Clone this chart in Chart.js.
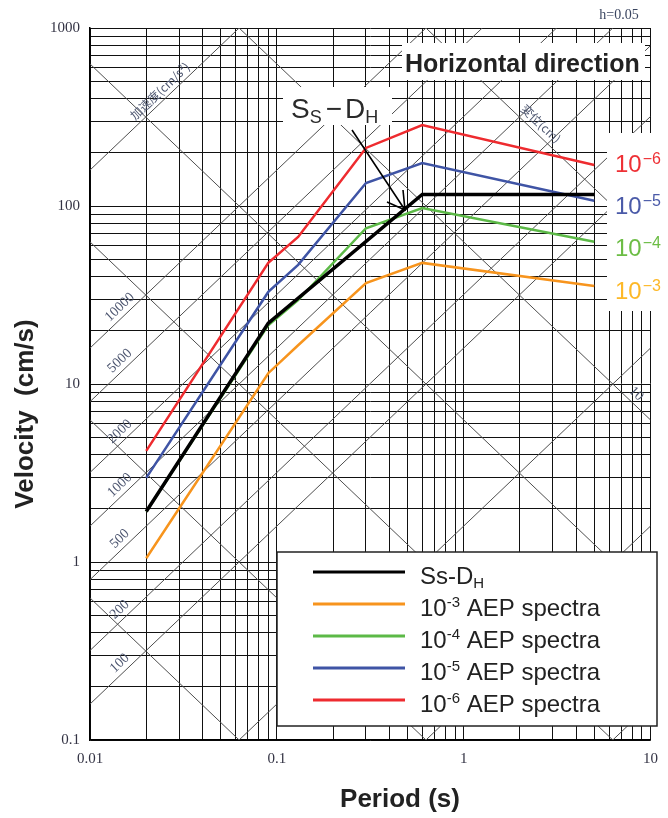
<!DOCTYPE html>
<html>
<head>
<meta charset="utf-8">
<script src="https://cdn.jsdelivr.net/npm/chart.js@4.4.1/dist/chart.umd.min.js"></script>
<style>
html, body { margin: 0; padding: 0; background: #fff; }
#wrap { width: 668px; height: 818px; position: relative; }
</style>
</head>
<body>
<div id="wrap"><canvas id="chart"></canvas></div>
<script>
// values (period in s, velocity in cm/s)
const ssPeriods = [0.02, 0.09, 0.6, 5];
const ssVelocity = [1.92, 22, 116, 116];
const aepPeriods = [0.02, 0.09, 0.13, 0.3, 0.6, 5];
const aep3 = [1.05, 11.5, 16.5, 36.9, 47.9, 35.5];
const aep4 = [1.92, 21.4, 29.6, 75, 97.5, 63];
const aep5 = [2.97, 32.9, 46.7, 134.6, 174.5, 107];
const aep6 = [4.21, 47.9, 67, 212, 285, 170];

const xTickValues = [0.01, 0.1, 1, 10];
const xTickLabels = ['0.01', '0.1', '1', '10'];
const yTickValues = [0.1, 1, 10, 100, 1000];
const yTickLabels = ['0.1', '1', '10', '100', '1000'];

// tripartite guide lines: acceleration (cm/s2) and displacement (cm)
const accelLines = [0.1, 1, 10, 100, 200, 500, 1000, 2000, 5000, 10000, 100000];
const accelLabels = [100, 200, 500, 1000, 2000, 5000, 10000];
const dispLines = [0.001, 0.01, 0.1, 1, 10, 100];

const TWO_PI = 2 * Math.PI;
const SANS = "'Liberation Sans', Arial, sans-serif";
const SERIF = "'Liberation Serif', 'Times New Roman', serif";

function decadeGrid(min, max) {
	let out = [];
	let e0 = Math.round(Math.log10(min));
	let e1 = Math.round(Math.log10(max));
	for (let e = e0; e < e1; e++) {
		for (let m = 1; m < 10; m++) {
			out.push(+(m * Math.pow(10, e)).toPrecision(6));
		}
	}
	out.push(max);
	return out;
}

function labelFor(value, values, labels) {
	let i = values.findIndex(v => Math.abs(v - value) / v < 1e-6);
	return i < 0 ? '' : labels[i];
}

function points(xs, ys) {
	return xs.map((x, i) => ({x, y: ys[i]}));
}

// text made of runs, for sub/superscripts
function drawRuns(ctx, x, y, runs, color) {
	ctx.fillStyle = color;
	ctx.textAlign = 'left';
	ctx.textBaseline = 'alphabetic';
	for (let r of runs) {
		ctx.font = (r.bold ? 'bold ' : '') + r.size + 'px ' + (r.family || SANS);
		ctx.fillText(r.text, x, y + (r.dy || 0));
		x += ctx.measureText(r.text).width + (r.gap || 0);
	}
	return x;
}

const legendRuns = [
	[{text: 'Ss-D', size: 24}, {text: 'H', size: 15, dy: 4}],
	[{text: '10', size: 24}, {text: '-3', size: 15, dy: -9}, {text: ' AEP spectra', size: 24}],
	[{text: '10', size: 24}, {text: '-4', size: 15, dy: -9}, {text: ' AEP spectra', size: 24}],
	[{text: '10', size: 24}, {text: '-5', size: 15, dy: -9}, {text: ' AEP spectra', size: 24}],
	[{text: '10', size: 24}, {text: '-6', size: 15, dy: -9}, {text: ' AEP spectra', size: 24}],
];

const sideLabels = [
	{exp: '\u22126', color: '#ee3035', y: 172},
	{exp: '\u22125', color: '#4a5aa8', y: 214},
	{exp: '\u22124', color: '#6cbd45', y: 256},
	{exp: '\u22123', color: '#fdb827', y: 299},
];

const guidePlugin = {
	id: 'tripartite',
	beforeDatasetsDraw(chart) {
		let {ctx, chartArea: a, scales: {x, y}} = chart;
		let t0 = x.min;
		let t1 = x.max;
		let seg = f => {
			ctx.beginPath();
			ctx.moveTo(x.getPixelForValue(t0), y.getPixelForValue(f(t0)));
			ctx.lineTo(x.getPixelForValue(t1), y.getPixelForValue(f(t1)));
			ctx.stroke();
		};
		ctx.save();
		ctx.beginPath();
		ctx.rect(a.left, a.top, a.right - a.left, a.bottom - a.top);
		ctx.clip();
		ctx.strokeStyle = '#4e4e4e';
		ctx.lineWidth = 1;
		accelLines.forEach(A => seg(T => A * T / TWO_PI));
		dispLines.forEach(D => seg(T => TWO_PI * D / T));
		ctx.restore();
	},
	afterDatasetsDraw(chart) {
		let {ctx, scales: {x, y}} = chart;

		// label sitting on a guide line at pixel px
		let onLine = (f, px, text, font, color, gap) => {
			let T = x.getValueForPixel(px);
			let py = y.getPixelForValue(f(T));
			let qx = x.getPixelForValue(T * 2);
			let qy = y.getPixelForValue(f(T * 2));
			let ang = Math.atan2(qy - py, qx - px);
			ctx.save();
			ctx.translate(px, py);
			ctx.rotate(ang);
			ctx.font = font;
			ctx.fillStyle = color;
			ctx.textAlign = 'center';
			ctx.textBaseline = 'bottom';
			ctx.fillText(text, 0, -gap);
			ctx.restore();
		};
		let guideColor = '#4d5670';
		accelLabels.forEach(A => onLine(T => A * T / TWO_PI, 126, String(A), '14px ' + SERIF, guideColor, 2));
		onLine(T => 100000 * T / TWO_PI, 166, '加速度(cm/s²)', "12px 'Noto Sans CJK JP', sans-serif", guideColor, 3);
		onLine(T => TWO_PI * 100 / T, 534, '変位(cm)', "12px 'Noto Sans CJK JP', sans-serif", guideColor, 4);
		onLine(T => TWO_PI * 10 / T, 630, '10', '14px ' + SERIF, guideColor, 2);

		// boxes over the grid
		ctx.save();
		ctx.fillStyle = '#fff';
		ctx.fillRect(402, 43, 243, 37);
		ctx.fillRect(283, 87, 109, 38);
		ctx.fillRect(607, 133, 61, 178);
		ctx.restore();

		drawRuns(ctx, 405, 72, [{text: 'Horizontal direction', size: 25, bold: true}], '#222');
		drawRuns(ctx, 291, 118, [
			{text: 'S', size: 28},
			{text: 'S', size: 18, dy: 5, gap: 4},
			{text: '\u2212', size: 28, gap: 3},
			{text: 'D', size: 28},
			{text: 'H', size: 18, dy: 5},
		], '#2a2a2a');

		// arrow to the Ss-DH line
		ctx.save();
		ctx.strokeStyle = '#000';
		ctx.lineWidth = 1.6;
		ctx.beginPath();
		ctx.moveTo(352, 130);
		ctx.lineTo(405, 210);
		ctx.moveTo(387, 202);
		ctx.lineTo(405, 210);
		ctx.lineTo(403, 190);
		ctx.stroke();
		ctx.restore();

		for (let s of sideLabels) {
			drawRuns(ctx, 615, s.y, [
				{text: '10', size: 24, gap: 1},
				{text: s.exp, size: 16, dy: -8},
			], s.color);
		}
	},
	afterDraw(chart) {
		let {ctx} = chart;
		ctx.save();
		ctx.font = '14px ' + SERIF;
		ctx.fillStyle = '#3a4560';
		ctx.textAlign = 'center';
		ctx.textBaseline = 'middle';
		ctx.fillText('h=0.05', 619, 15);

		ctx.fillStyle = '#222';
		ctx.font = 'bold 26px ' + SANS;
		ctx.fillText('Period (s)', 400, 800);
		ctx.translate(26, 414);
		ctx.rotate(-Math.PI / 2);
		ctx.fillText('Velocity  (cm/s)', 0, 0);
		ctx.restore();

		// legend
		ctx.save();
		ctx.fillStyle = '#fff';
		ctx.fillRect(277, 552, 380, 174);
		ctx.strokeStyle = '#222';
		ctx.lineWidth = 1.5;
		ctx.strokeRect(277, 552, 380, 174);
		chart.data.datasets.forEach((ds, i) => {
			let ly = 572 + i * 32;
			ctx.strokeStyle = ds.borderColor;
			ctx.lineWidth = 3;
			ctx.beginPath();
			ctx.moveTo(313, ly);
			ctx.lineTo(405, ly);
			ctx.stroke();
			drawRuns(ctx, 420, ly + 12, legendRuns[i], '#222');
		});
		ctx.restore();
	},
};

let gridLine = {color: '#111', lineWidth: 1, drawTicks: false};

new Chart(document.getElementById('chart'), {
	type: 'line',
	data: {
		datasets: [
			{label: 'Ss-DH', data: points(ssPeriods, ssVelocity), borderColor: '#000000', borderWidth: 3.5},
			{label: '10-3 AEP spectra', data: points(aepPeriods, aep3), borderColor: '#f7941d', borderWidth: 2.5},
			{label: '10-4 AEP spectra', data: points(aepPeriods, aep4), borderColor: '#5cb947', borderWidth: 2.5},
			{label: '10-5 AEP spectra', data: points(aepPeriods, aep5), borderColor: '#3f54a5', borderWidth: 2.5},
			{label: '10-6 AEP spectra', data: points(aepPeriods, aep6), borderColor: '#ee2b2f', borderWidth: 2.5},
		],
	},
	options: {
		responsive: true,
		maintainAspectRatio: false,
		devicePixelRatio: 1,
		animation: false,
		layout: {padding: {top: 28, right: 13, left: 0, bottom: 0}},
		elements: {
			point: {radius: 0},
			line: {tension: 0, fill: false},
		},
		plugins: {
			legend: {display: false},
			tooltip: {enabled: false},
		},
		scales: {
			x: {
				type: 'logarithmic',
				min: 0.01,
				max: 10,
				afterBuildTicks: s => {
					s.ticks = decadeGrid(0.01, 10).map(v => ({value: v}));
				},
				afterFit: s => {
					s.height = 78;
				},
				ticks: {
					autoSkip: false,
					maxRotation: 0,
					minRotation: 0,
					padding: 10,
					color: '#333344',
					font: {family: 'Liberation Serif', size: 15},
					callback: v => labelFor(v, xTickValues, xTickLabels),
				},
				grid: gridLine,
				border: {color: '#000', width: 1.5},
			},
			y: {
				type: 'logarithmic',
				min: 0.1,
				max: 1000,
				afterBuildTicks: s => {
					s.ticks = decadeGrid(0.1, 1000).map(v => ({value: v}));
				},
				afterFit: s => {
					s.width = 90;
				},
				ticks: {
					autoSkip: false,
					padding: 10,
					color: '#333344',
					font: {family: 'Liberation Serif', size: 15},
					callback: v => labelFor(v, yTickValues, yTickLabels),
				},
				grid: gridLine,
				border: {color: '#000', width: 1.5},
			},
		},
	},
	plugins: [guidePlugin],
});
</script>
</body>
</html>
